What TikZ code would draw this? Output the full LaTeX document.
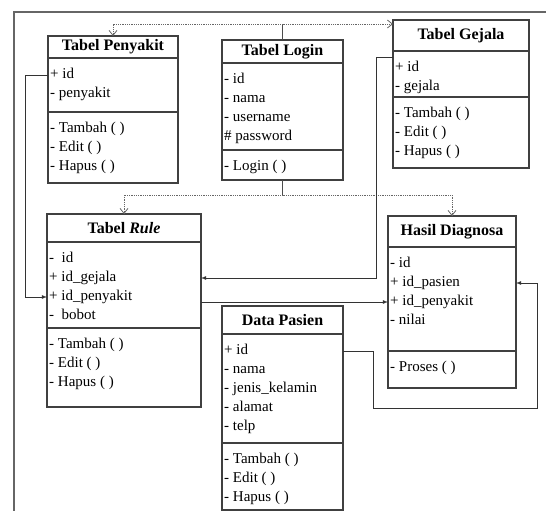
\documentclass[tikz,border=0pt]{standalone}
\usepackage{fontspec}
\setmainfont{Liberation Serif}
\usetikzlibrary{arrows,arrows.meta,positioning}
\tikzstyle{head}=[draw=black!75,line width=1.1pt,anchor=north west,outer sep=0pt,font=\fontsize{16}{19}\selectfont\bfseries]
\tikzstyle{part}=[draw=black!75,line width=1.1pt,outer sep=0pt]
\tikzstyle{row}=[anchor=west,inner xsep=2pt,inner ysep=0pt,text height=10pt,text depth=4pt,font=\fontsize{15}{18}\selectfont]
\tikzstyle{link}=[draw=black!70,line width=0.8pt]
\tikzstyle{farr}=[draw=black!80,line width=0.8pt,-latex]
\tikzstyle{darr}=[draw=black!60,line width=0.8pt,densely dotted,-{Straight Barb[length=5pt,width=8pt]}]
\tikzstyle{frame}=[draw=black!60,line width=1.2pt]

\begin{document}
\begin{tikzpicture}[x=1pt,y=-1pt]
    \useasboundingbox (0,0) rectangle (546,511);
    \draw[frame] (546,12) -- (14,12) -- (14,511);

    % class boxes: name/x/y/width/head/attributes/methods/title
    \foreach \nm/\x/\y/\w/\hh/\ha/\hm/\title in {pk/48/36/130/22/54/71/Tabel Penyakit,
    lg/222/40/121/23/87/30/Tabel Login, gj/393/20/136/31/46/71/Tabel Gejala,
    rl/47/214/154/28/86/79/Tabel \textit{Rule}, hd/388/216/128/31/104/37/Hasil Diagnosa,
    pa/222/306/121/28/109/67/Data Pasien} {
        \node[head, minimum width=\w, minimum height=\hh] (\nm) at (\x,\y) {\title};
        \node[part, minimum width=\w, minimum height=\ha, below=0pt of \nm] (\nm-a) {};
        \node[part, minimum width=\w, minimum height=\hm, below=0pt of \nm-a] (\nm-m) {};
    }

    \foreach \t [count=\i] in {+ id, - penyakit}
        \node[row] (pk-a\i) at ([shift={(0,19*\i-2)}]pk-a.north west) {\t};
    \foreach \t [count=\i] in {- Tambah ( ), - Edit ( ), - Hapus ( )}
        \node[row] (pk-m\i) at ([shift={(0,19*\i-2)}]pk-m.north west) {\t};

    \foreach \t [count=\i] in {- id, - nama, - username, \# password}
        \node[row] (lg-a\i) at ([shift={(0,19*\i-2)}]lg-a.north west) {\t};
    \foreach \t [count=\i] in {- Login ( )}
        \node[row] (lg-m\i) at ([shift={(0,19*\i-2)}]lg-m.north west) {\t};

    \foreach \t [count=\i] in {+ id, - gejala}
        \node[row] (gj-a\i) at ([shift={(0,19*\i-2)}]gj-a.north west) {\t};
    \foreach \t [count=\i] in {- Tambah ( ), - Edit ( ), - Hapus ( )}
        \node[row] (gj-m\i) at ([shift={(0,19*\i-2)}]gj-m.north west) {\t};

    \foreach \t [count=\i] in {-\ \ id, + id\_gejala, + id\_penyakit, -\ \ bobot}
        \node[row] (rl-a\i) at ([shift={(0,19*\i-2)}]rl-a.north west) {\t};
    \foreach \t [count=\i] in {- Tambah ( ), - Edit ( ), - Hapus ( )}
        \node[row] (rl-m\i) at ([shift={(0,19*\i-2)}]rl-m.north west) {\t};

    \foreach \t [count=\i] in {- id, + id\_pasien, + id\_penyakit, - nilai}
        \node[row] (hd-a\i) at ([shift={(0,19*\i-2)}]hd-a.north west) {\t};
    \foreach \t [count=\i] in {- Proses ( )}
        \node[row] (hd-m\i) at ([shift={(0,19*\i-2)}]hd-m.north west) {\t};

    \foreach \t [count=\i] in {+ id, - nama, - jenis\_kelamin, - alamat, - telp}
        \node[row] (pa-a\i) at ([shift={(0,19*\i-2)}]pa-a.north west) {\t};
    \foreach \t [count=\i] in {- Tambah ( ), - Edit ( ), - Hapus ( )}
        \node[row] (pa-m\i) at ([shift={(0,19*\i-2)}]pa-m.north west) {\t};

    % login links
    \path (lg.north) ++(0,-16) coordinate (up);
    \path (lg-m.south) ++(0,15) coordinate (dn);
    \draw[link] (lg.north) -- (up);
    \draw[darr] (up) -| (pk.north);
    \draw[darr] (up) -- (up -| gj.west);
    \draw[link] (lg-m.south) -- (dn);
    \draw[darr] (dn) -| (rl.north);
    \draw[darr] (dn) -| (hd.north);

    % relations
    \draw[farr] (pk-a1.west) -- ++(-23,0) |- (rl-a3.west);
    \draw[farr] ([yshift=11pt]gj-a1.west) -- ++(-17,0) |- (rl-a2 -| rl-a.east);
    \draw[farr] (hd-a3 -| rl-a.east) -- (hd-a3.west);
    \coordinate (p1) at (373,408);
    \coordinate (p2) at (537,408);
    \draw[farr] (pa-a1 -| pa-a.east) -| (p1) -- (p2) |- (hd-a2 -| hd-a.east);
\end{tikzpicture}
\end{document}
